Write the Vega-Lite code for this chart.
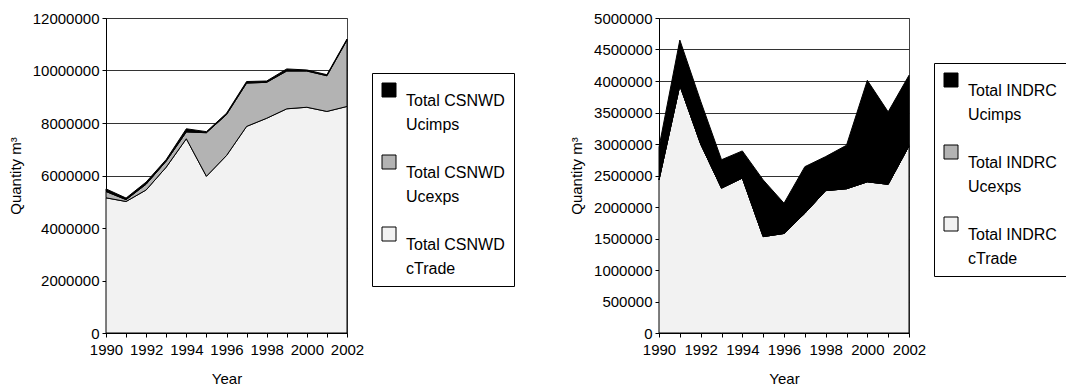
{
  "$schema": "https://vega.github.io/schema/vega-lite/v6.json",
  "background": "white",
  "padding": {"left": 7, "top": 10, "right": 0, "bottom": 0},
  "spacing": 54,
  "config": {
    "font": "Liberation Sans",
    "view": {"stroke": "#444", "strokeWidth": 1},
    "axis": {
      "labelFont": "Liberation Sans", "labelFontSize": 15, "labelColor": "black",
      "titleFont": "Liberation Sans", "titleFontSize": 15, "titleFontWeight": "normal", "titleColor": "black",
      "domainColor": "black", "tickColor": "black", "tickSize": 4, "gridColor": "#333", "gridWidth": 1
    },
    "legend": {
      "title": null, "strokeColor": "black", "fillColor": "white", "padding": 9,
      "symbolType": "square", "symbolSize": 196, "symbolStrokeColor": "black", "symbolStrokeWidth": 1,
      "labelFont": "Liberation Sans", "labelFontSize": 16, "labelColor": "black",
      "labelOffset": 9, "labelBaseline": "top", "rowPadding": 20, "labelLimit": 300
    }
  },
  "datasets": {
    "left": [
      {"year": 1990, "series": "Total CSNWD cTrade", "ord": 1, "value": 5150000},
      {"year": 1991, "series": "Total CSNWD cTrade", "ord": 1, "value": 5010000},
      {"year": 1992, "series": "Total CSNWD cTrade", "ord": 1, "value": 5450000},
      {"year": 1993, "series": "Total CSNWD cTrade", "ord": 1, "value": 6320000},
      {"year": 1994, "series": "Total CSNWD cTrade", "ord": 1, "value": 7400000},
      {"year": 1995, "series": "Total CSNWD cTrade", "ord": 1, "value": 5970000},
      {"year": 1996, "series": "Total CSNWD cTrade", "ord": 1, "value": 6760000},
      {"year": 1997, "series": "Total CSNWD cTrade", "ord": 1, "value": 7870000},
      {"year": 1998, "series": "Total CSNWD cTrade", "ord": 1, "value": 8180000},
      {"year": 1999, "series": "Total CSNWD cTrade", "ord": 1, "value": 8540000},
      {"year": 2000, "series": "Total CSNWD cTrade", "ord": 1, "value": 8600000},
      {"year": 2001, "series": "Total CSNWD cTrade", "ord": 1, "value": 8440000},
      {"year": 2002, "series": "Total CSNWD cTrade", "ord": 1, "value": 8630000},
      {"year": 1990, "series": "Total CSNWD Ucexps", "ord": 2, "value": 240000},
      {"year": 1991, "series": "Total CSNWD Ucexps", "ord": 2, "value": 70000},
      {"year": 1992, "series": "Total CSNWD Ucexps", "ord": 2, "value": 220000},
      {"year": 1993, "series": "Total CSNWD Ucexps", "ord": 2, "value": 230000},
      {"year": 1994, "series": "Total CSNWD Ucexps", "ord": 2, "value": 260000},
      {"year": 1995, "series": "Total CSNWD Ucexps", "ord": 2, "value": 1660000},
      {"year": 1996, "series": "Total CSNWD Ucexps", "ord": 2, "value": 1560000},
      {"year": 1997, "series": "Total CSNWD Ucexps", "ord": 2, "value": 1650000},
      {"year": 1998, "series": "Total CSNWD Ucexps", "ord": 2, "value": 1370000},
      {"year": 1999, "series": "Total CSNWD Ucexps", "ord": 2, "value": 1440000},
      {"year": 2000, "series": "Total CSNWD Ucexps", "ord": 2, "value": 1380000},
      {"year": 2001, "series": "Total CSNWD Ucexps", "ord": 2, "value": 1360000},
      {"year": 2002, "series": "Total CSNWD Ucexps", "ord": 2, "value": 2530000},
      {"year": 1990, "series": "Total CSNWD Ucimps", "ord": 3, "value": 100000},
      {"year": 1991, "series": "Total CSNWD Ucimps", "ord": 3, "value": 60000},
      {"year": 1992, "series": "Total CSNWD Ucimps", "ord": 3, "value": 80000},
      {"year": 1993, "series": "Total CSNWD Ucimps", "ord": 3, "value": 60000},
      {"year": 1994, "series": "Total CSNWD Ucimps", "ord": 3, "value": 120000},
      {"year": 1995, "series": "Total CSNWD Ucimps", "ord": 3, "value": 40000},
      {"year": 1996, "series": "Total CSNWD Ucimps", "ord": 3, "value": 50000},
      {"year": 1997, "series": "Total CSNWD Ucimps", "ord": 3, "value": 60000},
      {"year": 1998, "series": "Total CSNWD Ucimps", "ord": 3, "value": 50000},
      {"year": 1999, "series": "Total CSNWD Ucimps", "ord": 3, "value": 80000},
      {"year": 2000, "series": "Total CSNWD Ucimps", "ord": 3, "value": 40000},
      {"year": 2001, "series": "Total CSNWD Ucimps", "ord": 3, "value": 40000},
      {"year": 2002, "series": "Total CSNWD Ucimps", "ord": 3, "value": 40000}
    ],
    "right": [
      {"year": 1990, "series": "Total INDRC cTrade", "ord": 1, "value": 2430000},
      {"year": 1991, "series": "Total INDRC cTrade", "ord": 1, "value": 3930000},
      {"year": 1992, "series": "Total INDRC cTrade", "ord": 1, "value": 3000000},
      {"year": 1993, "series": "Total INDRC cTrade", "ord": 1, "value": 2300000},
      {"year": 1994, "series": "Total INDRC cTrade", "ord": 1, "value": 2460000},
      {"year": 1995, "series": "Total INDRC cTrade", "ord": 1, "value": 1530000},
      {"year": 1996, "series": "Total INDRC cTrade", "ord": 1, "value": 1580000},
      {"year": 1997, "series": "Total INDRC cTrade", "ord": 1, "value": 1900000},
      {"year": 1998, "series": "Total INDRC cTrade", "ord": 1, "value": 2260000},
      {"year": 1999, "series": "Total INDRC cTrade", "ord": 1, "value": 2290000},
      {"year": 2000, "series": "Total INDRC cTrade", "ord": 1, "value": 2400000},
      {"year": 2001, "series": "Total INDRC cTrade", "ord": 1, "value": 2360000},
      {"year": 2002, "series": "Total INDRC cTrade", "ord": 1, "value": 2970000},
      {"year": 1990, "series": "Total INDRC Ucexps", "ord": 2, "value": 0},
      {"year": 1991, "series": "Total INDRC Ucexps", "ord": 2, "value": 0},
      {"year": 1992, "series": "Total INDRC Ucexps", "ord": 2, "value": 0},
      {"year": 1993, "series": "Total INDRC Ucexps", "ord": 2, "value": 0},
      {"year": 1994, "series": "Total INDRC Ucexps", "ord": 2, "value": 0},
      {"year": 1995, "series": "Total INDRC Ucexps", "ord": 2, "value": 0},
      {"year": 1996, "series": "Total INDRC Ucexps", "ord": 2, "value": 0},
      {"year": 1997, "series": "Total INDRC Ucexps", "ord": 2, "value": 0},
      {"year": 1998, "series": "Total INDRC Ucexps", "ord": 2, "value": 0},
      {"year": 1999, "series": "Total INDRC Ucexps", "ord": 2, "value": 0},
      {"year": 2000, "series": "Total INDRC Ucexps", "ord": 2, "value": 0},
      {"year": 2001, "series": "Total INDRC Ucexps", "ord": 2, "value": 0},
      {"year": 2002, "series": "Total INDRC Ucexps", "ord": 2, "value": 0},
      {"year": 1990, "series": "Total INDRC Ucimps", "ord": 3, "value": 520000},
      {"year": 1991, "series": "Total INDRC Ucimps", "ord": 3, "value": 720000},
      {"year": 1992, "series": "Total INDRC Ucimps", "ord": 3, "value": 680000},
      {"year": 1993, "series": "Total INDRC Ucimps", "ord": 3, "value": 450000},
      {"year": 1994, "series": "Total INDRC Ucimps", "ord": 3, "value": 430000},
      {"year": 1995, "series": "Total INDRC Ucimps", "ord": 3, "value": 900000},
      {"year": 1996, "series": "Total INDRC Ucimps", "ord": 3, "value": 480000},
      {"year": 1997, "series": "Total INDRC Ucimps", "ord": 3, "value": 740000},
      {"year": 1998, "series": "Total INDRC Ucimps", "ord": 3, "value": 540000},
      {"year": 1999, "series": "Total INDRC Ucimps", "ord": 3, "value": 690000},
      {"year": 2000, "series": "Total INDRC Ucimps", "ord": 3, "value": 1610000},
      {"year": 2001, "series": "Total INDRC Ucimps", "ord": 3, "value": 1150000},
      {"year": 2002, "series": "Total INDRC Ucimps", "ord": 3, "value": 1120000}
    ]
  },
  "resolve": {"scale": {"color": "independent"}, "legend": {"color": "independent"}},
  "hconcat": [
    {
      "width": 241, "height": 315,
      "data": {"name": "left"},
      "mark": {"type": "area", "stroke": "black", "strokeWidth": 1, "strokeJoin": "miter"},
      "encoding": {
        "x": {"field": "year", "type": "quantitative", "title": "Year",
          "scale": {"domain": [1990, 2002], "nice": false, "zero": false},
          "axis": {"values": [1990,1991,1992,1993,1994,1995,1996,1997,1998,1999,2000,2001,2002],
            "format": "d", "grid": false, "labelExpr": "datum.value % 2 == 0 ? datum.label : ''",
            "labelOverlap": false, "labelFlush": false, "labelPadding": 5, "titlePadding": 14}},
        "y": {"field": "value", "type": "quantitative", "aggregate": "sum", "stack": "zero", "title": "Quantity m³",
          "scale": {"domain": [0, 12000000], "nice": false},
          "axis": {"values": [0,2000000,4000000,6000000,8000000,10000000,12000000], "format": "d",
            "grid": true, "labelPadding": 3, "titlePadding": 9}},
        "color": {"field": "series", "type": "nominal",
          "scale": {"domain": ["Total CSNWD Ucimps", "Total CSNWD Ucexps", "Total CSNWD cTrade"], "range": ["#000000", "#b3b3b3", "#f2f2f2"]},
          "legend": {"orient": "none", "legendX": 266, "legendY": 55,
            "labelExpr": "[slice(datum.label, 0, lastindexof(datum.label, ' ')), slice(datum.label, lastindexof(datum.label, ' ') + 1)]",
            "encode": {"labels": {"update": {"lineHeight": {"value": 24}, "dy": {"value": 3}}}}}},
        "order": {"field": "ord", "type": "quantitative", "sort": "ascending"}
      }
    },
    {
      "width": 250, "height": 315,
      "data": {"name": "right"},
      "mark": {"type": "area", "stroke": "black", "strokeWidth": 1, "strokeJoin": "miter"},
      "encoding": {
        "x": {"field": "year", "type": "quantitative", "title": "Year",
          "scale": {"domain": [1990, 2002], "nice": false, "zero": false},
          "axis": {"values": [1990,1991,1992,1993,1994,1995,1996,1997,1998,1999,2000,2001,2002],
            "format": "d", "grid": false, "labelExpr": "datum.value % 2 == 0 ? datum.label : ''",
            "labelOverlap": false, "labelFlush": false, "labelPadding": 5, "titlePadding": 14}},
        "y": {"field": "value", "type": "quantitative", "aggregate": "sum", "stack": "zero", "title": "Quantity m³",
          "scale": {"domain": [0, 5000000], "nice": false},
          "axis": {"values": [0,500000,1000000,1500000,2000000,2500000,3000000,3500000,4000000,4500000,5000000], "format": "d",
            "grid": true, "labelPadding": 3, "titlePadding": 9}},
        "color": {"field": "series", "type": "nominal",
          "scale": {"domain": ["Total INDRC Ucimps", "Total INDRC Ucexps", "Total INDRC cTrade"], "range": ["#000000", "#b3b3b3", "#f2f2f2"]},
          "legend": {"orient": "none", "legendX": 275, "legendY": 45,
            "labelExpr": "[slice(datum.label, 0, lastindexof(datum.label, ' ')), slice(datum.label, lastindexof(datum.label, ' ') + 1)]",
            "encode": {"labels": {"update": {"lineHeight": {"value": 24}, "dy": {"value": 3}}}}}},
        "order": {"field": "ord", "type": "quantitative", "sort": "ascending"}
      }
    }
  ]
}
